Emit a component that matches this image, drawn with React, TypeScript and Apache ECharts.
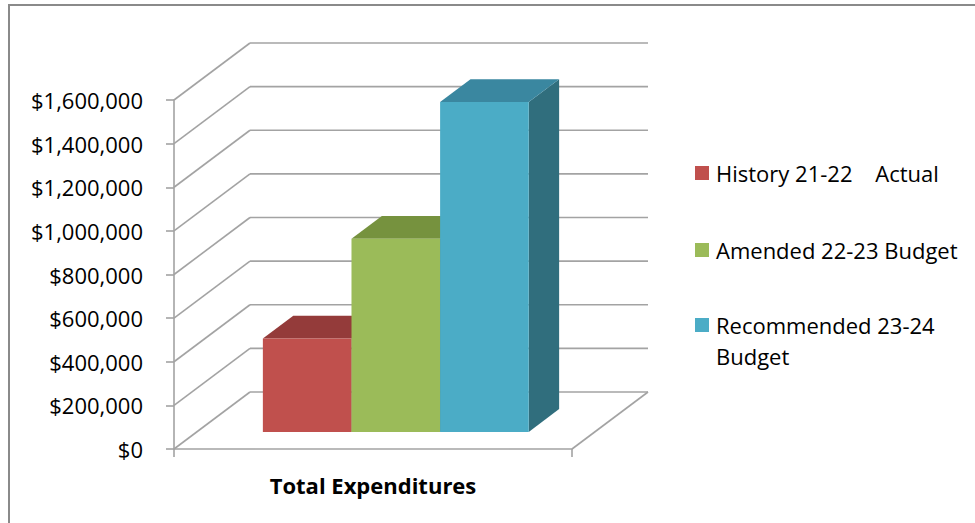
import React, { useEffect, useRef } from "react";
import * as echarts from "echarts";

const CATEGORIES = ["Total Expenditures"];
const SERIES_NAMES = ["History 21-22    Actual", "Amended 22-23 Budget", "Recommended 23-24\nBudget"];
const VALUES = [428000, 885000, 1512000];
const Y_TICKS = [0, 200000, 400000, 600000, 800000, 1000000, 1200000, 1400000, 1600000];
const FRONT_COLORS = ["#C0504D", "#9BBB59", "#4BACC6"];
const TOP_COLORS = ["#943B3A", "#76923E", "#3A87A0"];
const SIDE_COLORS = ["#7A2E2C", "#5F7530", "#306E7D"];

const DX = 76;
const DY = -57;
const T_FRONT = 0.3;
const T_BACK = 0.7;
const GROUP = 0.668;
const GRID_COLOR = "#a3a3a3";
const FONT = "'Open Sans'";

function fmtMoney(v: number) {
  return "$" + Math.round(v).toLocaleString("en-US");
}

export default function App() {
  const ref = useRef<HTMLDivElement>(null);
  useEffect(() => {
    if (!ref.current) return;
    const chart = echarts.init(ref.current, undefined, { renderer: "svg" });

    const wallSeries: any = {
      type: "custom",
      name: "wall",
      clip: false,
      silent: true,
      data: Y_TICKS.map((v) => [0, v]),
      renderItem: (params: any, api: any) => {
        const cs = params.coordSys;
        const y = api.coord([0, api.value(1)])[1];
        const left = cs.x;
        const right = cs.x + cs.width;
        const style = { stroke: GRID_COLOR, lineWidth: 1.6, fill: "none" };
        const children: any[] = [
          { type: "line", shape: { x1: left + DX, y1: y + DY, x2: right + DX, y2: y + DY }, style },
          { type: "line", shape: { x1: left, y1: y, x2: left + DX, y2: y + DY }, style },
        ];
        if (api.value(1) === 0) {
          children.push({ type: "line", shape: { x1: right, y1: y, x2: right + DX, y2: y + DY }, style });
        }
        return { type: "group", children };
      },
      z: 1,
    };

    const barSeries = SERIES_NAMES.map((name, i) => ({
      type: "custom",
      name,
      clip: false,
      data: [[0, VALUES[i]]],
      itemStyle: { color: FRONT_COLORS[i] },
      z: 2,
      renderItem: (params: any, api: any) => {
        const v = api.value(1);
        const top = api.coord([api.value(0), v]);
        const base = api.coord([api.value(0), 0]);
        const band = api.size([1, 0])[0];
        const gw = band * GROUP;
        const bw = gw / 3;
        const x0 = top[0] - gw / 2 + i * bw + T_FRONT * DX;
        const x1 = x0 + bw;
        const yt = top[1] + T_FRONT * DY;
        const yb = base[1] + T_FRONT * DY;
        const ddx = (T_BACK - T_FRONT) * DX;
        const ddy = (T_BACK - T_FRONT) * DY;
        return {
          type: "group",
          children: [
            {
              type: "polygon",
              shape: { points: [[x1, yt], [x1 + ddx, yt + ddy], [x1 + ddx, yb + ddy], [x1, yb]] },
              style: { fill: SIDE_COLORS[i] },
            },
            {
              type: "polygon",
              shape: { points: [[x0, yt], [x1, yt], [x1 + ddx, yt + ddy], [x0 + ddx, yt + ddy]] },
              style: { fill: TOP_COLORS[i] },
            },
            {
              type: "rect",
              shape: { x: x0, y: yt, width: bw, height: yb - yt },
              style: { fill: FRONT_COLORS[i] },
            },
          ],
        };
      },
    }));

    const legendY = [173, 250, 325];
    const legendGraphics: any[] = [];
    SERIES_NAMES.forEach((name, i) => {
      legendGraphics.push({
        type: "rect",
        shape: { x: 695, y: legendY[i] - 7, width: 14, height: 14 },
        style: { fill: FRONT_COLORS[i] },
      });
      legendGraphics.push({
        type: "text",
        x: 716,
        y: legendY[i] - 15.5,
        style: {
          text: name,
          font: `22px ${FONT}`,
          fill: "#000",
          verticalAlign: "top",
          lineHeight: 31,
        },
      });
    });

    chart.setOption({
      animation: false,
      backgroundColor: "#fff",
      grid: { left: 174, top: 100, width: 398, height: 349, containLabel: false },
      xAxis: {
        type: "category",
        data: CATEGORIES,
        boundaryGap: true,
        axisLine: { show: true, lineStyle: { color: GRID_COLOR, width: 1.6 } },
        axisTick: { show: true, length: 8, lineStyle: { color: GRID_COLOR, width: 1.6 } },
        axisLabel: {
          fontFamily: FONT,
          fontSize: 22,
          fontWeight: "bold",
          color: "#000",
          margin: 24,
          lineHeight: 24,
        },
        splitLine: { show: false },
      },
      yAxis: {
        type: "value",
        min: 0,
        max: 1600000,
        interval: 200000,
        axisLine: { show: true, lineStyle: { color: GRID_COLOR, width: 1.6 } },
        axisTick: { show: true, length: 8, lineStyle: { color: GRID_COLOR, width: 1.6 } },
        axisLabel: {
          fontFamily: FONT,
          fontSize: 22,
          color: "#000",
          margin: 31,
          formatter: (v: number) => fmtMoney(v),
        },
        splitLine: { show: false },
      },
      graphic: [
        {
          type: "rect",
          shape: { x: 9, y: 5, width: 1000, height: 600 },
          style: { fill: "none", stroke: "#8a8a8a", lineWidth: 2 },
          silent: true,
        },
        ...legendGraphics,
      ],
      series: [wallSeries, ...barSeries],
    });
    return () => chart.dispose();
  }, []);
  return <div ref={ref} style={{ position: "fixed", left: 0, top: 0, width: 975, height: 523 }} />;
}
